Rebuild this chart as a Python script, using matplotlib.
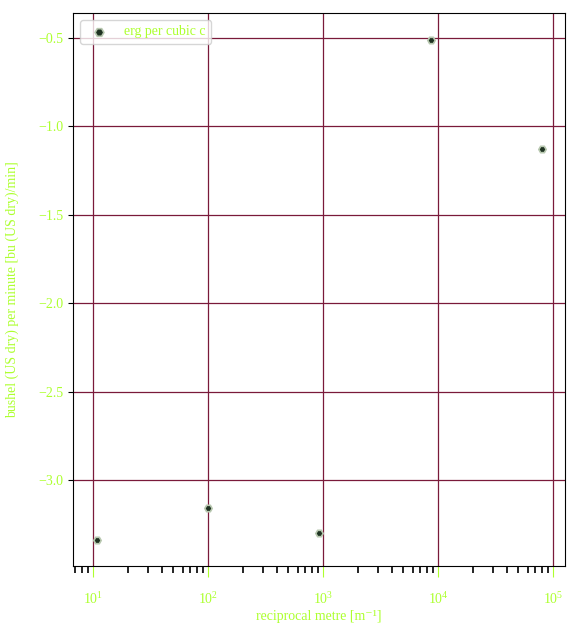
import matplotlib
matplotlib.use("Agg")
import matplotlib.pyplot as plt

x_vals = [10.8, 100, 925, 8700, 80000]
y_vals = [-3.34, -3.16, -3.30, -0.51, -1.13]
series_label = "erg per cubic c"
x_label = "reciprocal metre [m⁻¹]"
y_label = "bushel (US dry) per minute [bu (US dry)/min]"

plt.rcParams['font.family'] = ['Liberation Serif', 'DejaVu Serif']
plt.rcParams['mathtext.fontset'] = 'stix'
fig = plt.figure(figsize=(5.78, 6.34), dpi=100)
ax = fig.add_axes([73/578, 1-566/634, 492/578, 553/634])
ax.scatter(x_vals, y_vals, marker='H', s=28, facecolor='#1f3322', edgecolor='#b8c8b0', linewidths=1.2, label=series_label, zorder=3)
ax.set_xscale('log')
ax.set_xlim(6.7, 127000)
ax.set_ylim(-3.486, -0.359)
ax.grid(True, which='major', color='#7a1a3a', linewidth=0.9)
ax.set_axisbelow(True)
gc = '#adff2f'
ax.tick_params(axis='both', which='both', labelcolor=gc, labelsize=10)
ax.tick_params(axis='x', which='major', color=gc, length=8, pad=10)
ax.tick_params(axis='x', which='minor', color='black', length=5, width=1.2)
ax.set_xlabel(x_label, color=gc, fontsize=10, labelpad=2)
ax.set_ylabel(y_label, color=gc, fontsize=10, labelpad=14)
leg = ax.legend(loc='upper left', fontsize=10, labelcolor=gc, frameon=True, markerscale=1.2)
fig.savefig('out.png', dpi=100)
